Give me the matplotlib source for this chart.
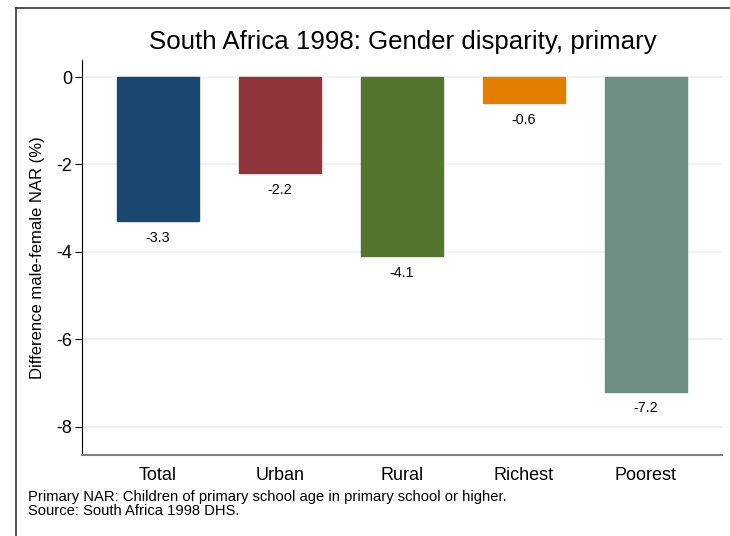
import matplotlib
matplotlib.use("Agg")
import matplotlib.pyplot as plt
from matplotlib.lines import Line2D

categories = ["Total", "Urban", "Rural", "Richest", "Poorest"]
values = [-3.3, -2.2, -4.1, -0.6, -7.2]
colors = ["#1a476f", "#90353b", "#55752f", "#e37e00", "#6e8e84"]
yticks = [0, -2, -4, -6, -8]

plt.rcParams['font.family'] = ['Liberation Sans', 'DejaVu Sans']

W, H = 730, 536
fig = plt.figure(figsize=(W/100, H/100), dpi=100)
fig.patch.set_facecolor("white")

ax = fig.add_axes([82/W, 1-455/H, (722-82)/W, (455-60)/H])
x = list(range(len(categories)))
ax.bar(x, values, width=0.67, color=colors, edgecolor=colors, zorder=3)
for xi, v in zip(x, values):
    ax.annotate(f"{v:.1f}", (xi, v), xytext=(0, -7), textcoords="offset points",
                ha="center", va="top", fontsize=10.3, color="black")

ax.set_xlim(-0.623, 4.623)
ax.set_ylim(-8.65, 0.39)
ax.set_yticks(yticks)
ax.set_yticklabels([str(t) for t in yticks], fontsize=13)
ax.set_xticks(x)
ax.set_xticklabels(categories, fontsize=13)
ax.tick_params(axis="x", length=0, pad=9)
ax.tick_params(axis="y", length=5, width=0.8, pad=2)
ax.grid(axis="y", color="#eaf2f3", linewidth=1.2, zorder=0)
for s in ["top", "right"]:
    ax.spines[s].set_visible(False)
ax.spines["left"].set_color("black")
ax.spines["left"].set_linewidth(0.8)
ax.spines["bottom"].set_color("#808080")
ax.spines["bottom"].set_linewidth(1.5)
ax.set_ylabel("Difference male-female NAR (%)", fontsize=12, labelpad=8)

fig.text(403/W, 1-42/H, "South Africa 1998: Gender disparity, primary",
         ha="center", va="center", fontsize=18.6)
fig.text(28/W, 1-497/H, "Primary NAR: Children of primary school age in primary school or higher.",
         ha="left", va="center", fontsize=10.6)
fig.text(28/W, 1-511/H, "Source: South Africa 1998 DHS.",
         ha="left", va="center", fontsize=10.6)

# outer graph region border (cropped at right and bottom)
fig.add_artist(Line2D([16/W, 1.0], [1-8/H, 1-8/H], transform=fig.transFigure, color="#333333", linewidth=1.2))
fig.add_artist(Line2D([16/W, 16/W], [0.0, 1-8/H], transform=fig.transFigure, color="#333333", linewidth=1.2))

fig.savefig("out.png", dpi=100)
